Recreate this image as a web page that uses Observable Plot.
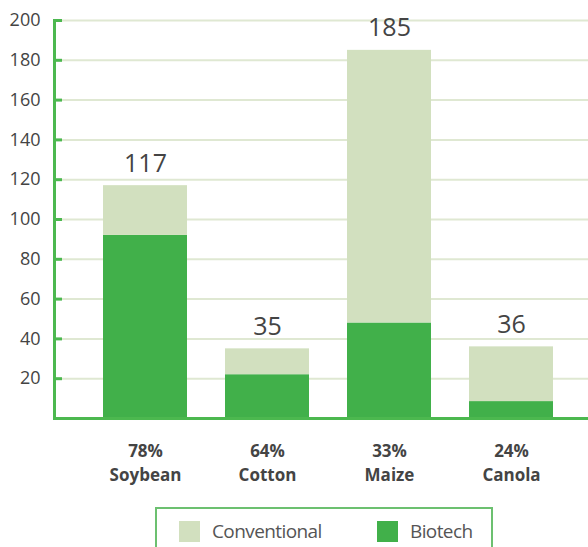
<!DOCTYPE html>
<html>
<head>
<meta charset="utf-8">
<script src="https://cdn.jsdelivr.net/npm/d3@7"></script>
<script src="https://cdn.jsdelivr.net/npm/@observablehq/plot@0.6"></script>
<style>
  html, body { margin: 0; padding: 0; background: #fff; }
  body { width: 588px; height: 547px; overflow: hidden; font-family: "Open Sans", sans-serif; }
  #chart svg { display: block; }
  .legend { position: absolute; left: 155px; top: 507px; width: 338px; height: 60px;
    border: 2px solid #6cc070; box-sizing: border-box; }
  .item { position: absolute; top: 9px; display: flex; align-items: center; font-size: 19px; letter-spacing: -0.6px; color: #555; }
  .sw { width: 21px; height: 21px; margin-right: 12px; }
</style>
</head>
<body>
<div id="chart"></div>
<div class="legend">
  <div class="item" style="left:22px"><span class="sw" style="background:#d2e0bf"></span>Conventional</div>
  <div class="item" style="left:220px"><span class="sw" style="background:#41b04a"></span>Biotech</div>
</div>
<script>
const crops = ["Soybean", "Cotton", "Maize", "Canola"];
const shares = ["78%", "64%", "33%", "24%"];
const totals = [117, 35, 185, 36];
const biotech = [92, 22, 48, 8.5];
const yTicks = [20, 40, 60, 80, 100, 120, 140, 160, 180, 200];

const rows = [];
crops.forEach((c, i) => {
  rows.push({crop: c, type: "Biotech", value: biotech[i]});
  rows.push({crop: c, type: "Conventional", value: totals[i] - biotech[i]});
});
const tot = crops.map((c, i) => ({crop: c, total: totals[i]}));
const labelOf = Object.fromEntries(crops.map((c, i) => [c, shares[i] + "\n" + c]));

const green = "#4cb84f";
const chart = Plot.plot({
  width: 588,
  height: 505,
  marginLeft: 54,
  marginRight: 0,
  marginTop: 20,
  marginBottom: 87,
  style: {fontFamily: "Open Sans, sans-serif", color: "#444", background: "#fff"},
  x: {domain: crops, paddingInner: 0.315, paddingOuter: 0.25, insetLeft: 17, insetRight: 3, label: null},
  y: {domain: [0, 200], label: null},
  color: {domain: ["Biotech", "Conventional"], range: ["#41b04a", "#d2e0bf"]},
  marks: [
    Plot.gridY(yTicks, {stroke: "#dfe8d2", strokeOpacity: 1, strokeWidth: 2}),
    Plot.barY(rows, {x: "crop", y: "value", fill: "type", order: ["Biotech", "Conventional"]}),
    Plot.text(tot, {x: "crop", y: "total", text: d => String(d.total), lineAnchor: "bottom", dy: -14, fontSize: 25, fill: "#444"}),
    Plot.axisY(yTicks, {tickSize: 0, tickPadding: 14, fontSize: 18, fill: "#444", label: null}),
    Plot.axisY(yTicks, {tickSize: -8, text: null, stroke: green, strokeWidth: 3, label: null}),
    Plot.axisX({tickSize: 0, tickPadding: 22, fontSize: 17, fontWeight: "bold", lineHeight: 1.4, fill: "#444", label: null, tickFormat: d => labelOf[d]}),
    Plot.ruleY([0], {stroke: green, strokeWidth: 3}),
    Plot.frame({anchor: "left", stroke: green, strokeWidth: 3})
  ]
});
document.getElementById("chart").append(chart);
</script>
</body>
</html>
